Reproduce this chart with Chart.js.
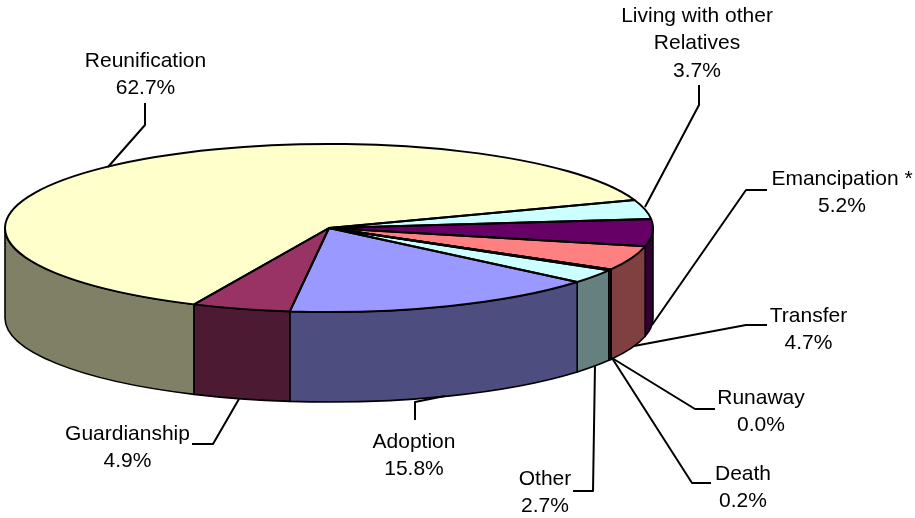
<!DOCTYPE html>
<html>
<head>
<meta charset="utf-8">
<style>html,body{margin:0;padding:0;background:#fff}canvas{display:block}</style>
<script src="https://cdn.jsdelivr.net/npm/chart.js@4/dist/chart.umd.js"></script>
</head>
<body>
<canvas id="c" width="915" height="518"></canvas>
<script>
// Data, clockwise from the Reunification slice
const categories = ['Reunification','Living with other Relatives','Emancipation *','Transfer','Runaway','Death','Other','Adoption','Guardianship'];
const values = [62.7,3.7,5.2,4.7,0.0,0.2,2.7,15.8,4.9];
const topColors = ['#FFFFCC','#CCFFFF','#660066','#FF8080','#0066CC','#CCCCFF','#CCFFFF','#9999FF','#993366'];
const sideColors = ['#808066','#668080','#330033','#804040','#003366','#666680','#668080','#4D4D80','#4D1A33'];

// Label text lines and layout
const labelLines = [['Reunification'],['Living with other','Relatives'],['Emancipation *'],['Transfer'],['Runaway'],['Death'],['Other'],['Adoption'],['Guardianship']];
const labelCenters = [[145.5,61],[697,16],[842,179],[808.5,316],[761,398],[743,474],[545,479],[414,442],[127.5,434]];
const leaderLines = [
  [[108,167],[145,125],[145,103]],
  [[645,207],[699,105],[699,85]],
  [[652,325],[746,190],[767,190]],
  [[634,346],[746,325],[767,325]],
  [[612,358],[695,409],[715,409]],
  [[612,358],[692,483],[711,483]],
  [[595,365],[593,491],[573,491]],
  [[445,396],[415,402],[415,420]],
  [[239,399],[213,444],[192,444]]
];

const W = 915, H = 518;
const pieX = 329, pieY = 228, radiusX = 324, radiusY = 84, depth = 90;
const firstSliceAngle = 204.6;
const fontPx = 21, linePitch = 27.7;

const pie3d = {
  id: 'pie3d',
  beforeDatasetsDraw(chart) {
    const ctx = chart.ctx, arcs = chart.getDatasetMeta(0).data;
    const R = arcs[0].outerRadius, cx = arcs[0].x, cy = arcs[0].y;
    // walls: only the front half of the ellipse faces the viewer
    ctx.save();
    ctx.lineWidth = 1.6; ctx.strokeStyle = '#000'; ctx.lineJoin = 'round';
    arcs.forEach((a, i) => {
      for (let k = 0; k < 2; k++) {
        const lo = Math.max(a.startAngle, k * 2 * Math.PI);
        const hi = Math.min(a.endAngle, k * 2 * Math.PI + Math.PI);
        if (hi < lo) continue;
        ctx.beginPath();
        ctx.ellipse(cx, cy, radiusX, radiusY, 0, lo, hi);
        ctx.ellipse(cx, cy + depth, radiusX, radiusY, 0, hi, lo, true);
        ctx.closePath();
        ctx.fillStyle = sideColors[i];
        ctx.fill();
        ctx.stroke();
      }
    });
    ctx.restore();
    // squash the library's circular pie into the top ellipse
    ctx.save();
    ctx.translate(cx, cy);
    ctx.scale(radiusX / R, radiusY / R);
    ctx.translate(-cx, -cy);
  },
  afterDatasetsDraw(chart) {
    const ctx = chart.ctx, arcs = chart.getDatasetMeta(0).data;
    ctx.restore();
    const cx = arcs[0].x, cy = arcs[0].y;
    ctx.save();
    ctx.lineWidth = 2; ctx.strokeStyle = '#000'; ctx.lineJoin = 'round';
    arcs.forEach(a => {
      ctx.beginPath();
      ctx.moveTo(cx, cy);
      ctx.ellipse(cx, cy, radiusX, radiusY, 0, a.startAngle, a.endAngle);
      ctx.closePath();
      ctx.stroke();
    });
    // leader lines
    leaderLines.forEach(pts => {
      ctx.beginPath();
      pts.forEach((p, j) => j ? ctx.lineTo(p[0], p[1]) : ctx.moveTo(p[0], p[1]));
      ctx.stroke();
    });
    // labels
    ctx.fillStyle = '#000';
    ctx.font = fontPx + 'px "Liberation Sans", Arial, sans-serif';
    ctx.textAlign = 'center';
    ctx.textBaseline = 'middle';
    labelLines.forEach((lines, i) => {
      const all = lines.concat([values[i].toFixed(1) + '%']);
      all.forEach((t, j) => ctx.fillText(t, labelCenters[i][0], labelCenters[i][1] + j * linePitch));
    });
    ctx.restore();
  }
};

new Chart(document.getElementById('c'), {
  type: 'pie',
  data: {
    labels: categories,
    datasets: [{ data: values, backgroundColor: topColors, borderWidth: 0, clip: false }]
  },
  options: {
    responsive: false,
    animation: false,
    rotation: firstSliceAngle,
    layout: { padding: { left: 0, top: 0, right: W - 2 * pieX, bottom: H - 2 * pieY } },
    plugins: { legend: { display: false }, tooltip: { enabled: false }, title: { display: false } }
  },
  plugins: [pie3d]
});
</script>
</body>
</html>
